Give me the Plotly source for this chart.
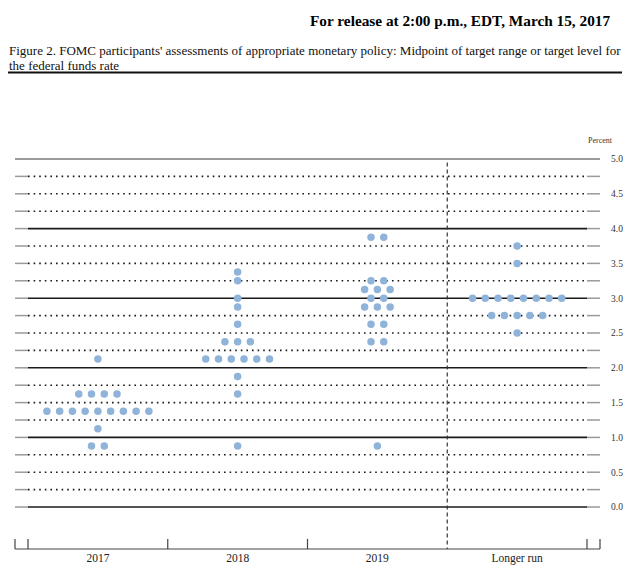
import numpy as np
import plotly.graph_objects as go

# midpoints of target range and number of participants at each, per horizon
categories = ["2017", "2018", "2019", "Longer run"]
levels_2017 = [0.875, 1.125, 1.375, 1.625, 2.125]
counts_2017 = [2, 1, 9, 4, 1]
levels_2018 = [0.875, 1.625, 1.875, 2.125, 2.375, 2.625, 2.875, 3.0, 3.25, 3.375]
counts_2018 = [1, 1, 1, 6, 3, 1, 1, 1, 1, 1]
levels_2019 = [0.875, 2.375, 2.625, 2.875, 3.0, 3.125, 3.25, 3.875]
counts_2019 = [1, 2, 2, 3, 2, 3, 2, 2]
levels_lr = [2.5, 2.75, 3.0, 3.5, 3.75]
counts_lr = [1, 5, 8, 1, 1]
y_ticks = [0, 0.5, 1, 1.5, 2, 2.5, 3, 3.5, 4, 4.5, 5]

OFF = 8                            # page body margin
W, H = 640, 572
L, R, T, B = 12 - OFF, 603 - OFF, 150 - OFF, 551 - OFF   # plot area in pixels
xr = [-0.1145, 4.1145]
yr = [-0.632, 5.129]
step = 0.0912                      # horizontal gap between dots

def px(x):   # window pixel -> paper x
    return (x - OFF - L) / (R - L)

def py(y):   # window pixel -> paper y
    return (B - (y - OFF)) / (B - T)

fig = go.Figure()

xs, ys = [], []
all_levels = [levels_2017, levels_2018, levels_2019, levels_lr]
all_counts = [counts_2017, counts_2018, counts_2019, counts_lr]
for i, (lv, ct) in enumerate(zip(all_levels, all_counts)):
    c = i + 0.5
    for v, n in zip(lv, ct):
        for k in range(n):
            xs.append(c + (k - (n - 1) / 2) * step)
            ys.append(v)

fig.add_trace(go.Scatter(
    x=xs, y=ys, mode="markers",
    marker=dict(size=7.5, color="#8FB3D9", line=dict(width=0)),
    showlegend=False, hoverinfo="y"))

shapes = []
x_lo, x_hi = -0.093, 4.093
for k in range(21):
    v = k * 0.25
    if k == 20:
        shapes.append(dict(type="line", x0=x_lo, x1=x_hi, y0=v, y1=v,
                           line=dict(color="#7a7a7a", width=1.5), layer="below"))
        continue
    for a, b in [(x_lo, 0), (4, x_hi)]:
        shapes.append(dict(type="line", x0=a, x1=b, y0=v, y1=v,
                           line=dict(color="#9a9a9a", width=1.5), layer="below"))
    if k % 4 == 0:
        shapes.append(dict(type="line", x0=0, x1=4, y0=v, y1=v,
                           line=dict(color="#1a1a1a", width=1.6), layer="below"))
    else:
        shapes.append(dict(type="line", x0=0, x1=4, y0=v, y1=v,
                           line=dict(color="#1a1a1a", width=1.6, dash="1.6px,4px"),
                           layer="below"))

# vertical dashed separator before the longer run
shapes.append(dict(type="line", x0=3, x1=3, y0=4.95, y1=-0.603,
                   line=dict(color="#333333", width=1.2, dash="4px,3px"), layer="below"))

# bottom bracket with ticks
yb = -0.603
shapes.append(dict(type="line", x0=x_lo, x1=x_hi, y0=yb, y1=yb,
                   line=dict(color="#444444", width=1.2)))
for t in [x_lo, 0, 1, 2, 4, x_hi]:
    shapes.append(dict(type="line", x0=t, x1=t, y0=yb, y1=yb + 0.145,
                       line=dict(color="#444444", width=1.2)))

# underline of the caption
shapes.append(dict(type="line", xref="paper", yref="paper",
                   x0=px(8), x1=px(622), y0=py(72.5), y1=py(72.5),
                   line=dict(color="#111111", width=1.8)))

serif = "Liberation Serif, Times New Roman, serif"
annotations = [
    dict(text="<b>For release at 2:00 p.m., EDT, March 15, 2017</b>",
         xref="paper", yref="paper", x=px(612), y=py(20), xanchor="right",
         yanchor="middle", showarrow=False, font=dict(family=serif, size=15.3, color="#000")),
    dict(text="Figure 2. FOMC participants' assessments of appropriate monetary policy: "
              "Midpoint of target range or target level for",
         xref="paper", yref="paper", x=px(7), y=py(50), xanchor="left",
         yanchor="middle", showarrow=False, font=dict(family=serif, size=13, color="#111")),
    dict(text="the federal funds rate",
         xref="paper", yref="paper", x=px(7), y=py(65), xanchor="left",
         yanchor="middle", showarrow=False, font=dict(family=serif, size=13, color="#111")),
    dict(text="Percent", xref="paper", yref="paper", x=px(600), y=py(141),
         xanchor="center", yanchor="middle", showarrow=False,
         font=dict(family=serif, size=8, color="#333")),
]

fig.update_layout(
    width=W, height=H,
    margin=dict(l=L, r=W - R, t=T, b=H - B, pad=0),
    paper_bgcolor="white", plot_bgcolor="white",
    shapes=shapes, annotations=annotations,
    xaxis=dict(range=xr, tickmode="array", tickvals=[0.5, 1.5, 2.5, 3.5],
               ticktext=categories, showgrid=False, zeroline=False, showline=False,
               ticks="", ticklabelstandoff=-2,
               tickfont=dict(family=serif, size=11.5, color="#222"),
               fixedrange=True),
    yaxis=dict(range=yr, side="right", tickmode="array", tickvals=y_ticks,
               ticktext=["%.1f" % v for v in y_ticks], showgrid=False,
               zeroline=False, showline=False, ticks="", ticklabelstandoff=7,
               tickfont=dict(family=serif, size=9.5, color="#333"), fixedrange=True),
)

fig.write_html("out.html")
